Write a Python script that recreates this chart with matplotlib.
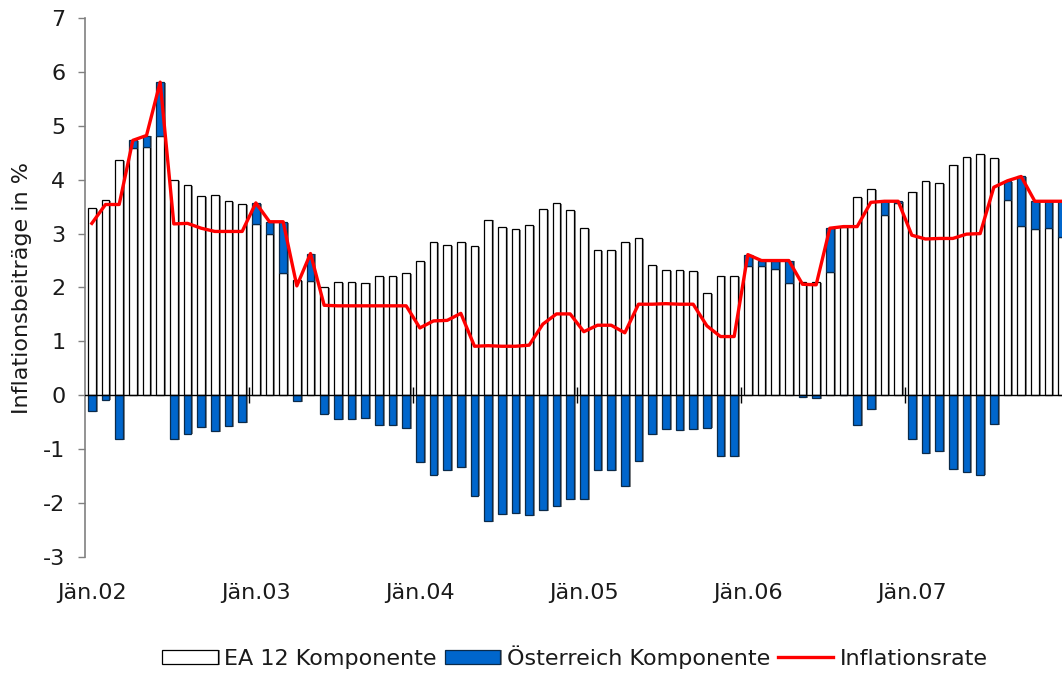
import numpy as np
import matplotlib
matplotlib.use("Agg")
import matplotlib.pyplot as plt
import matplotlib.patheffects as pe

# Monthly contributions to the Austrian HICP inflation rate, Jan 2002 - Dec 2007
months = [f"{m:02d}.{y:02d}" for y in range(2, 8) for m in range(1, 13)]

ea12 = [
    3.48, 3.62, 4.36, 4.58, 4.61, 4.81, 4.00, 3.90, 3.69, 3.71, 3.61, 3.54,   # 2002
    3.17, 3.00, 2.27, 2.13, 2.12, 2.01, 2.10, 2.10, 2.09, 2.21, 2.21, 2.27,   # 2003
    2.49, 2.85, 2.78, 2.85, 2.77, 3.26, 3.12, 3.09, 3.16, 3.45, 3.56, 3.43,   # 2004
    3.10, 2.69, 2.69, 2.85, 2.91, 2.41, 2.33, 2.33, 2.31, 1.89, 2.22, 2.21,   # 2005
    2.39, 2.40, 2.35, 2.08, 2.10, 2.10, 2.29, 3.13, 3.68, 3.83, 3.35, 3.57,   # 2006
    3.78, 3.97, 3.94, 4.28, 4.42, 4.47, 4.40, 3.62, 3.14, 3.08, 3.11, 2.93,   # 2007
]
austria = [
    -0.29, -0.08, -0.82, 0.15, 0.21, 1.00, -0.82, -0.71, -0.59, -0.67, -0.57, -0.50,
    0.40, 0.22, 0.95, -0.10, 0.51, -0.34, -0.44, -0.44, -0.43, -0.55, -0.55, -0.61,
    -1.24, -1.47, -1.39, -1.33, -1.86, -2.34, -2.21, -2.18, -2.23, -2.13, -2.05, -1.92,
    -1.92, -1.39, -1.39, -1.69, -1.22, -0.72, -0.63, -0.64, -0.62, -0.60, -1.13, -1.12,
    0.22, 0.10, 0.15, 0.42, -0.04, -0.05, 0.81, 0.00, -0.55, -0.25, 0.25, 0.03,
    -0.81, -1.07, -1.03, -1.37, -1.43, -1.47, -0.54, 0.36, 0.92, 0.52, 0.49, 0.67,
]
year_labels = ["Jän.02", "Jän.03", "Jän.04", "Jän.05", "Jän.06", "Jän.07"]

ea12 = np.array(ea12)
austria = np.array(austria)
inflation = ea12 + austria
x = np.arange(len(months))

TEXT_COL = "#1a1a1a"
BLUE = "#0066cc"
plt.rcParams["font.family"] = ["DejaVu Sans"]
plt.rcParams["axes.unicode_minus"] = False

fig = plt.figure(figsize=(10.62, 6.74), dpi=100)
ax = fig.add_axes([85 / 1062, 117 / 674, 984 / 1062, 539 / 674])

shadow = [pe.SimplePatchShadow(offset=(1.6, -0.6), shadow_rgbFace="#7f7f7f", alpha=0.9),
          pe.Normal()]

bw = 0.55
# positive Austrian contributions stack on top of the EA12 bar, negative ones hang below zero
at_bottom = np.where(austria > 0, ea12, 0)
b_ea = ax.bar(x, ea12, width=bw, color="white", edgecolor="black", linewidth=0.9,
              path_effects=shadow, label="EA 12 Komponente", zorder=2)
b_at = ax.bar(x, austria, bottom=at_bottom, width=bw, color=BLUE, edgecolor="#0a2a4a",
              linewidth=0.9, path_effects=shadow, label="Österreich Komponente", zorder=2)
l_inf, = ax.plot(x, inflation, color="#ff0000", linewidth=2.4, label="Inflationsrate", zorder=4)

ax.axhline(0, color="black", linewidth=1.0, zorder=3)
# year separators on the zero line
year_edges = np.arange(12, len(months), 12) - 0.5
ax.plot(year_edges, np.zeros_like(year_edges), linestyle="none", marker="|",
        markersize=11, markeredgewidth=1.0, color="black", zorder=3)

ax.set_xlim(-0.5, len(months) - 0.5)
ax.set_ylim(-3, 7)
ax.set_yticks(range(-3, 8))
ax.set_xticks(np.arange(0, len(months), 12))
ax.set_xticklabels(year_labels)
ax.tick_params(axis="x", length=0, pad=19, labelsize=16, labelcolor=TEXT_COL)
ax.tick_params(axis="y", length=5, width=1, color="#808080", pad=9,
               labelsize=16, labelcolor=TEXT_COL)

for side in ["top", "right", "bottom"]:
    ax.spines[side].set_visible(False)
ax.spines["left"].set_color("#808080")
ax.spines["left"].set_linewidth(1.2)

ax.set_ylabel("Inflationsbeiträge in %", fontsize=16, color=TEXT_COL, labelpad=8)

fig.legend(handles=[b_ea, b_at, l_inf], loc="center",
           bbox_to_anchor=(575 / 1062, 1 - 657 / 674), ncol=3,
           frameon=False, fontsize=16, handlelength=2.5, handleheight=0.65,
           handletextpad=0.3, columnspacing=0.35, labelcolor=TEXT_COL)

fig.savefig("out.png", dpi=100)
